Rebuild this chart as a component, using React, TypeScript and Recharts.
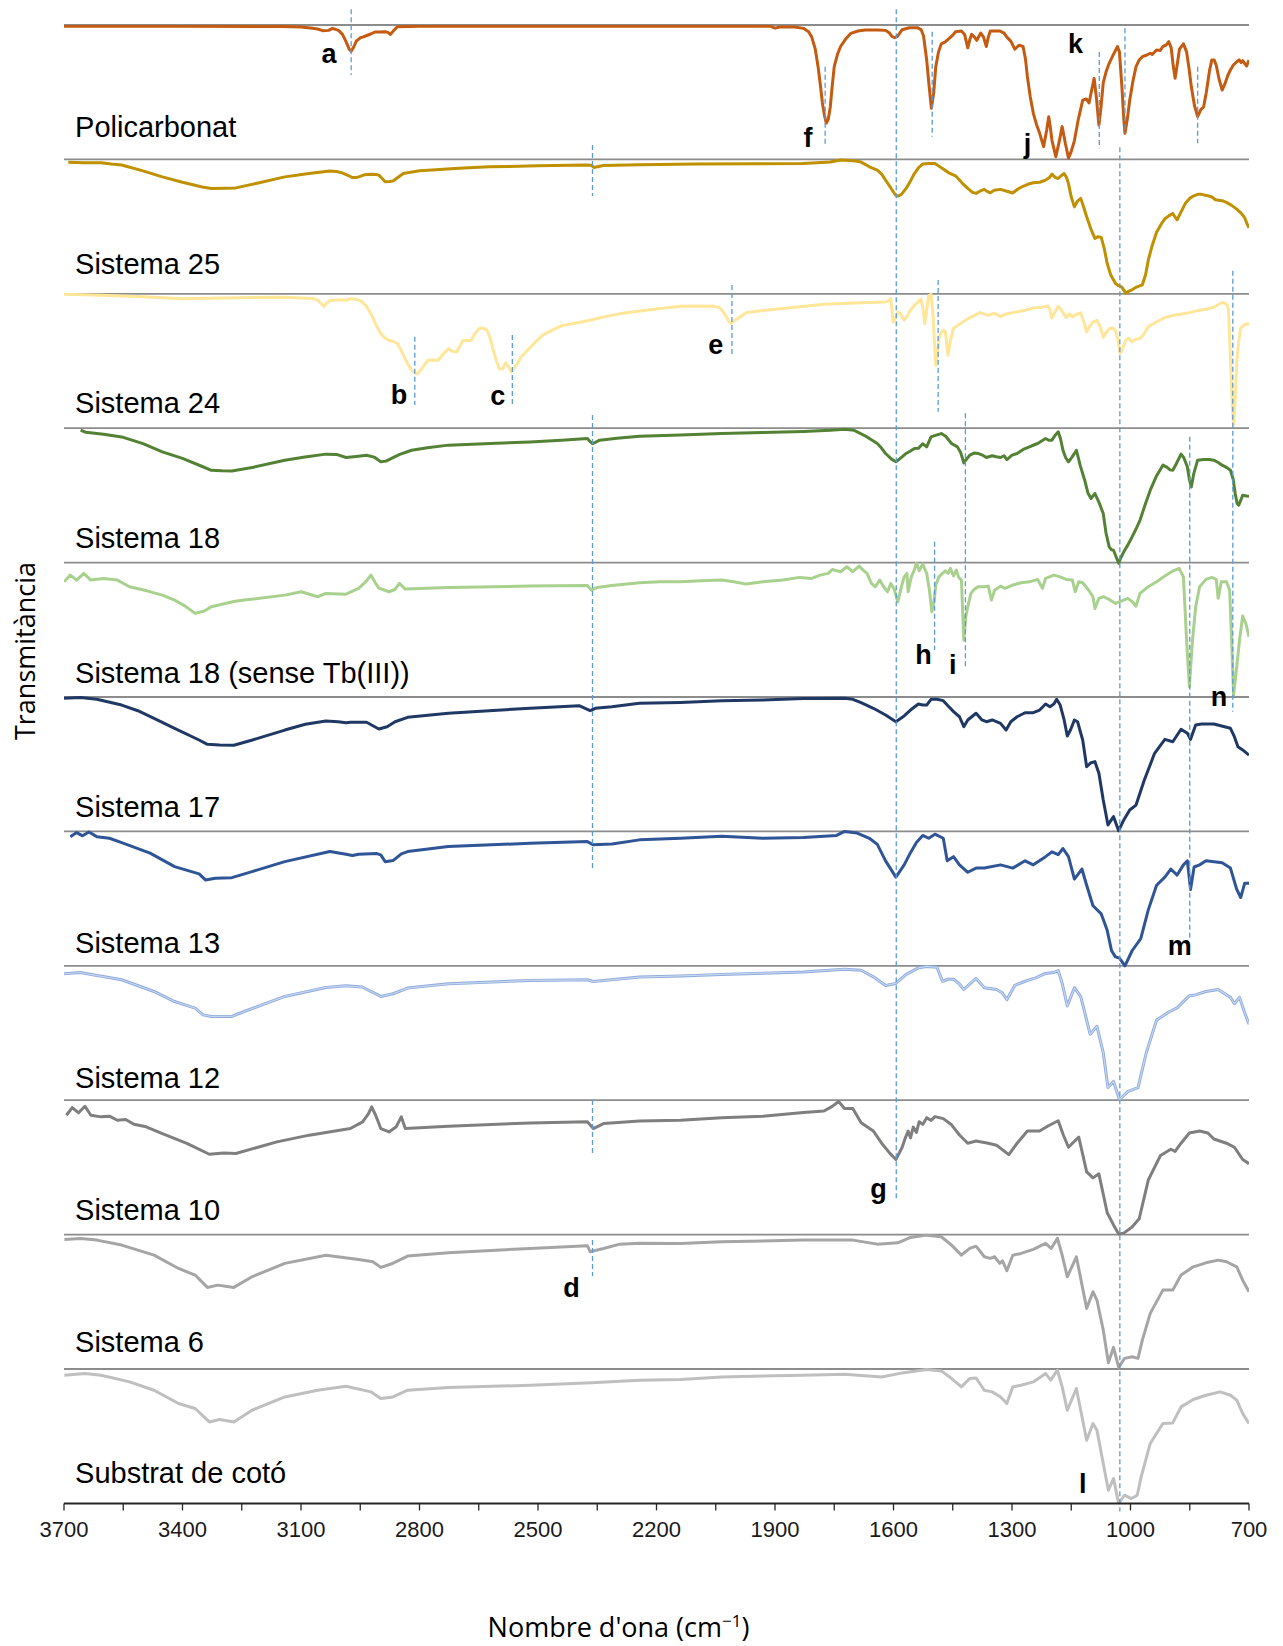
import React from 'react';
import { LineChart, Line, XAxis, YAxis, ReferenceLine, ReferenceDot, Label } from 'recharts';

type Pt = [number, number];

// Spectra: [wavenumber (cm-1), relative transmittance within its band (0 = bottom, 100 = top)]
const POLICARBONAT: Pt[] = [
  [3700, 99], [3400, 99], [3150, 98.8], [3100, 98.5], [3070, 97.5], [3058, 97], [3045, 95.8], [3030, 96], [3020, 97.5],
  [3005, 96], [2995, 93], [2986, 87.6], [2978, 82], [2973, 80.5], [2966, 84], [2960, 88], [2950, 90.5], [2944, 91],
  [2935, 92], [2922, 93.5], [2913, 94.8], [2900, 94.8], [2887, 95], [2880, 94.5], [2874, 93], [2865, 96], [2856, 98.7],
  [2800, 99], [2500, 99], [2200, 99], [1911, 99], [1900, 97.7], [1888, 98.5], [1850, 98.5], [1828, 97.5], [1815, 95],
  [1807, 91], [1798, 82], [1791, 69], [1785, 55], [1780, 42], [1775, 33], [1770, 27], [1765, 30], [1760, 39], [1755, 55],
  [1750, 69], [1742, 78], [1734, 84], [1720, 90], [1708, 93.8], [1690, 95.5], [1672, 96.3], [1640, 96.3], [1620, 96],
  [1610, 94], [1604, 91.5], [1597, 90.5], [1590, 91.5], [1578, 96.5], [1560, 98], [1540, 98], [1530, 96.5], [1524, 92],
  [1516, 74], [1510, 55], [1504, 38], [1498, 50], [1493, 69], [1486, 80], [1479, 86], [1469, 87.5], [1459, 90],
  [1450, 92.5], [1443, 95], [1428, 95.5], [1420, 93], [1412, 83], [1406, 90], [1402, 93], [1395, 91], [1389, 88.6],
  [1383, 92], [1379, 94], [1372, 91], [1365, 84], [1360, 91], [1355, 95.5], [1330, 95.5], [1320, 94], [1313, 91],
  [1303, 88], [1298, 85], [1293, 82], [1282, 85], [1272, 84], [1266, 75], [1261, 61.5], [1254, 47], [1246, 34.3],
  [1238, 26], [1230, 19.4], [1220, 9.5], [1212, 22], [1207, 31.8], [1203, 24], [1199, 14.4], [1189, 2], [1180, 14],
  [1173, 24.4], [1165, 12], [1157, 1], [1150, 6], [1142, 14], [1132, 30], [1121, 44], [1112, 45], [1105, 42], [1098, 52],
  [1092, 60.3], [1086, 45], [1080, 25.6], [1075, 38], [1069, 57], [1062, 65], [1054, 71.5], [1045, 77], [1033, 84],
  [1028, 80], [1022, 55], [1017, 30], [1014, 19.4], [1008, 30], [1002, 44], [994, 58], [986, 69], [978, 74], [970, 76.4],
  [960, 77.5], [950, 79], [945, 78], [934, 81.4], [925, 81], [918, 84], [910, 85], [903, 87.6], [897, 83], [892, 70],
  [887, 60.3], [882, 70], [876, 82], [866, 86], [858, 80], [852, 68], [846, 54], [838, 40], [830, 31.8], [822, 37],
  [815, 39], [808, 50], [800, 66], [794, 74], [788, 74], [783, 70], [776, 60], [768, 51.6], [760, 57], [753, 63],
  [747, 66.5], [740, 70], [731, 72.7], [725, 74], [720, 72], [716, 73.5], [710, 71], [706, 69.5], [700, 74],
];

const SISTEMA_25: Pt[] = [
  [3689, 97.8], [3650, 97.5], [3606, 97.5], [3580, 96.5], [3554, 95.8], [3500, 91.5], [3451, 87], [3400, 83],
  [3350, 79.5], [3327, 78.4], [3290, 78.6], [3265, 78.8], [3200, 83], [3141, 87], [3080, 89.5], [3027, 91.3],
  [3010, 91], [2996, 90], [2980, 88], [2970, 86.5], [2960, 86.5], [2954, 87], [2940, 88.5], [2923, 89], [2910, 88.7],
  [2903, 88.3], [2895, 86], [2887, 83.4], [2875, 83.5], [2867, 84], [2855, 86.5], [2841, 89.5], [2800, 91.5],
  [2779, 92], [2700, 93.5], [2624, 94.5], [2500, 95.2], [2380, 95.8], [2365, 95.6], [2358, 94], [2350, 94.5],
  [2334, 95.5], [2243, 96], [2100, 96.5], [1950, 96.8], [1830, 97], [1760, 98], [1734, 99.6], [1700, 99], [1682, 98],
  [1661, 94.5], [1641, 92], [1630, 89], [1620, 84.6], [1605, 78], [1595, 73.5], [1589, 72.7], [1580, 74], [1568, 78.4],
  [1557, 84], [1547, 89.5], [1536, 94], [1526, 96.5], [1510, 97], [1495, 97], [1485, 95], [1474, 92.8], [1460, 90],
  [1443, 87.8], [1425, 82], [1412, 78.4], [1400, 75.5], [1391, 74.7], [1380, 76.5], [1370, 77.7], [1362, 76],
  [1355, 75.2], [1345, 77], [1329, 77.7], [1315, 76.5], [1298, 75], [1285, 78], [1272, 80], [1260, 81.5], [1246, 82.6],
  [1230, 83], [1215, 84.6], [1205, 86.5], [1199, 89], [1190, 86.5], [1183, 85.8], [1175, 88], [1168, 89.5],
  [1162, 86.5], [1157, 82], [1150, 72], [1142, 64.7], [1134, 69], [1126, 71], [1118, 64], [1111, 57.3], [1100, 48],
  [1090, 41.2], [1082, 42.5], [1074, 42], [1066, 33], [1059, 22.6], [1050, 14], [1038, 7.7], [1030, 6], [1022, 5],
  [1012, 0.5], [1004, 2], [996, 3], [985, 5], [970, 6.7], [962, 14], [955, 25], [945, 36], [934, 45.8], [922, 52],
  [913, 55.8], [903, 58], [893, 59.8], [887, 57], [882, 55], [872, 61], [861, 67.3], [850, 71], [841, 72.7], [830, 74],
  [820, 74], [805, 73], [794, 72], [785, 70], [773, 69.5], [765, 69], [757, 68], [745, 66], [731, 63], [720, 60],
  [711, 56.7], [705, 52], [700, 49],
];

const SISTEMA_24: Pt[] = [
  [3700, 99.6], [3600, 99], [3500, 97.8], [3400, 96.4], [3300, 96.8], [3141, 97.5], [3070, 96.5], [3058, 95.5],
  [3050, 93], [3042, 90.7], [3035, 93], [3027, 95], [3010, 95.3], [2996, 95.6], [2985, 95.2], [2975, 96.4], [2960, 95.8],
  [2949, 94.8], [2935, 91], [2923, 85.2], [2910, 77], [2898, 70.4], [2887, 67], [2877, 65.4], [2866, 64.5], [2856, 63],
  [2845, 57], [2830, 48], [2822, 44], [2815, 41.8], [2805, 40.4], [2795, 44], [2779, 50.5], [2765, 50.8], [2753, 50.5],
  [2740, 55], [2727, 59.2], [2716, 57], [2706, 56.7], [2698, 61], [2691, 65], [2680, 65.5], [2670, 65], [2660, 70],
  [2649, 74.1], [2640, 74.5], [2629, 73], [2620, 66], [2613, 57.7], [2605, 50], [2598, 44.3], [2590, 44], [2582, 48.6],
  [2575, 46], [2567, 41.7], [2555, 47], [2541, 53.5], [2520, 60], [2489, 69.1], [2460, 73.5], [2437, 76.5],
  [2400, 78.5], [2365, 80.5], [2330, 83], [2293, 85.2], [2243, 87.2], [2190, 89], [2139, 90.7], [2100, 91],
  [2056, 90.7], [2040, 89.7], [2032, 87], [2025, 84], [2018, 80], [2012, 77.8], [2004, 80], [1994, 81.6], [1985, 83.5],
  [1973, 86], [1930, 87.5], [1880, 89], [1830, 90.5], [1776, 92.2], [1700, 93.2], [1620, 93.9], [1612, 95],
  [1607, 96.4], [1604, 88], [1601, 79], [1595, 82], [1589, 86.5], [1582, 85], [1573, 80.4], [1566, 83], [1557, 87.9],
  [1545, 92], [1531, 96], [1526, 90], [1521, 77.8], [1516, 88], [1511, 98.5], [1505, 99.5], [1500, 85], [1496, 62],
  [1493, 46.8], [1488, 58], [1484, 68], [1479, 71], [1474, 73], [1469, 72.2], [1465, 62], [1462, 54.2], [1456, 65],
  [1448, 74.4], [1430, 78], [1412, 81.5], [1395, 84], [1381, 86], [1360, 84], [1345, 85.5], [1329, 83], [1315, 85],
  [1298, 86], [1270, 87.5], [1246, 89.5], [1225, 90], [1209, 91], [1204, 88], [1199, 82], [1192, 86], [1183, 90.7],
  [1175, 88], [1163, 82.3], [1155, 85], [1147, 82.8], [1138, 84.5], [1126, 85.8], [1118, 79], [1111, 71.6], [1103, 76],
  [1095, 79], [1085, 80.3], [1076, 75], [1069, 67.5], [1062, 71], [1054, 74], [1046, 74.5], [1038, 72.8], [1032, 66],
  [1026, 55.5], [1019, 60], [1012, 65.4], [1004, 67], [996, 64.2], [988, 66], [976, 66.7], [966, 70], [955, 75.6],
  [935, 79], [913, 82.3], [890, 84], [870, 85], [851, 86], [830, 87.5], [809, 88.5], [790, 90], [768, 93.5], [760, 93],
  [755, 91.5], [752, 88], [748, 60], [745, 35.6], [742, 15], [739, 2.2], [735, 20], [731, 49.5], [726, 65], [721, 74.4],
  [712, 77], [700, 78],
];

const SISTEMA_18: Pt[] = [
  [3658, 98.5], [3645, 97], [3600, 95.5], [3554, 93.5], [3500, 88.5], [3451, 82.4], [3400, 77.5], [3350, 71.5],
  [3327, 68.7], [3300, 68.3], [3275, 68.2], [3220, 71], [3141, 76.2], [3090, 78.5], [3037, 80.7], [3010, 80.5],
  [2986, 78.2], [2960, 79], [2934, 79.9], [2915, 78.5], [2898, 75], [2885, 75.5], [2872, 77.4], [2850, 80.5],
  [2820, 83.6], [2780, 85.5], [2727, 87.4], [2620, 88.7], [2520, 89.8], [2440, 91], [2375, 92.3], [2368, 90],
  [2362, 88.6], [2355, 89.5], [2344, 91.1], [2300, 92.5], [2243, 94], [2140, 95], [2035, 96], [1930, 96.8],
  [1828, 97.6], [1760, 98.5], [1724, 99.3], [1700, 98.5], [1692, 97.3], [1670, 94], [1641, 88.6], [1630, 85],
  [1620, 81.2], [1605, 77], [1594, 75], [1585, 77], [1568, 81.2], [1557, 83], [1547, 84.9], [1537, 85], [1526, 88.4],
  [1516, 86.1], [1505, 93.5], [1490, 95], [1479, 96], [1468, 94], [1453, 88.6], [1438, 86.1], [1430, 82], [1422, 74.2],
  [1415, 77], [1407, 79.9], [1396, 81.5], [1386, 81.2], [1375, 80], [1365, 78.2], [1350, 79.5], [1340, 78.8],
  [1329, 78.2], [1320, 79.5], [1313, 76.7], [1300, 80], [1287, 81.2], [1270, 84.5], [1256, 86.1], [1245, 87.5],
  [1235, 88.6], [1225, 90.5], [1215, 92.3], [1207, 91], [1199, 91.1], [1190, 95], [1183, 97.3], [1177, 92],
  [1171, 83.6], [1164, 78], [1157, 75], [1148, 78.5], [1137, 83.6], [1127, 72], [1116, 61.3], [1108, 52], [1100, 47.7],
  [1094, 50], [1090, 51.4], [1080, 45], [1069, 36.5], [1062, 22], [1054, 11.7], [1048, 9.5], [1043, 9.2], [1036, 4],
  [1030, -0.5], [1024, 4], [1017, 8], [1007, 13], [996, 19.1], [986, 25], [976, 31.5], [963, 43], [950, 53.9],
  [935, 64], [918, 72.5], [908, 71], [900, 69], [893, 68.7], [885, 73], [872, 80.7], [865, 78], [856, 71.2], [851, 62],
  [846, 56.3], [840, 66], [830, 76.2], [815, 76.7], [800, 76.7], [789, 76.2], [778, 74.5], [768, 72.5], [755, 70.5],
  [747, 68.7], [740, 62], [735, 51.4], [730, 44], [726, 42.7], [720, 47], [716, 50.1], [706, 49.5], [700, 49.4],
];

const SISTEMA_18_SENSE_TB: Pt[] = [
  [3700, 85.7], [3684, 90.7], [3668, 87], [3650, 92], [3632, 87], [3600, 88.2], [3565, 87], [3534, 82], [3490, 79],
  [3451, 75.8], [3420, 72.1], [3395, 68], [3368, 62.2], [3345, 64], [3327, 67.1], [3270, 71], [3244, 72.1],
  [3141, 75.8], [3099, 78.3], [3058, 74.6], [3037, 77.1], [2986, 76.5], [2954, 80.8], [2935, 86], [2923, 90.7],
  [2912, 85], [2903, 81], [2877, 78.3], [2862, 80], [2851, 84.5], [2836, 80.3], [2727, 81.5], [2520, 82.5],
  [2375, 83], [2365, 79.5], [2350, 81.5], [2313, 83], [2243, 85], [2191, 85.7], [2139, 85.7], [2087, 86.5],
  [2035, 87], [2004, 85.7], [1973, 84], [1931, 85.7], [1880, 87], [1838, 89], [1807, 88.2], [1786, 90.7], [1765, 92],
  [1755, 94.9], [1734, 93.2], [1718, 96.9], [1703, 93.2], [1687, 97.4], [1677, 94.4], [1667, 92], [1656, 84.5],
  [1646, 82], [1635, 87], [1625, 82], [1615, 78.3], [1607, 84.5], [1599, 80.8], [1589, 70.8], [1580, 82], [1573, 89.4],
  [1566, 92], [1563, 78.3], [1555, 89.4], [1549, 93.2], [1542, 99.5], [1535, 93.9], [1526, 98.9], [1516, 92],
  [1509, 79.5], [1503, 63.4], [1497, 72.1], [1493, 83.3], [1485, 89.4], [1476, 92], [1469, 93.9], [1462, 92],
  [1456, 95.7], [1448, 90], [1441, 94.4], [1435, 89], [1428, 87], [1422, 42.3], [1417, 59.7], [1412, 67.1],
  [1404, 77.1], [1396, 80], [1386, 82], [1370, 82], [1360, 82.5], [1352, 72.1], [1344, 79.5], [1329, 82.5],
  [1318, 80.8], [1298, 83.3], [1277, 85], [1256, 85.7], [1235, 87.5], [1223, 80.8], [1215, 88.2], [1194, 90.7],
  [1178, 89.4], [1163, 87.5], [1147, 87], [1140, 78.3], [1131, 85.7], [1121, 85], [1106, 79.5], [1095, 74.6],
  [1090, 65.9], [1080, 73.4], [1069, 74.6], [1054, 72.6], [1038, 69.6], [1022, 71.6], [1007, 73.4], [996, 71],
  [986, 67.6], [976, 77.1], [955, 82], [934, 85.7], [913, 90], [892, 93.9], [877, 95.7], [866, 89.4], [858, 42.3],
  [851, 7.6], [843, 42.3], [835, 67.1], [825, 82], [809, 87.5], [794, 89], [783, 87.5], [778, 73.4], [770, 85.7],
  [757, 85.7], [749, 79.5], [745, 49.8], [739, 1.4], [731, 22.5], [724, 42.3], [716, 60.2], [708, 54.7], [700, 44.8],
];

const SISTEMA_17: Pt[] = [
  [3700, 99], [3658, 99.7], [3617, 98.3], [3554, 94], [3513, 89.8], [3472, 84.1], [3420, 76.7], [3358, 68],
  [3337, 64.8], [3306, 64.3], [3270, 64.1], [3223, 68], [3141, 75.4], [3089, 79.7], [3037, 82.1], [3006, 81.6],
  [2986, 80.9], [2975, 81.2], [2934, 81.2], [2903, 76.2], [2882, 77.9], [2862, 81.6], [2830, 84.9], [2727, 87.9],
  [2624, 89.8], [2520, 91.6], [2396, 93.5], [2368, 89.8], [2355, 91.6], [2313, 92.8], [2243, 95.3], [2139, 96],
  [2035, 97.3], [1931, 97.8], [1828, 98.8], [1724, 99], [1703, 98.3], [1682, 95.8], [1651, 91.6], [1620, 86.6],
  [1594, 81.6], [1573, 85.9], [1557, 90.3], [1537, 94.8], [1526, 94], [1516, 94], [1505, 98.3], [1490, 98.3],
  [1474, 97.3], [1464, 94], [1448, 89.1], [1433, 85.3], [1422, 77.9], [1412, 82.9], [1391, 87.9], [1376, 82.9],
  [1365, 81.6], [1350, 82.9], [1329, 80.4], [1315, 75.4], [1303, 81.6], [1287, 85.3], [1267, 88.3], [1246, 88.3],
  [1230, 90.3], [1215, 94.8], [1204, 92.8], [1194, 94.8], [1187, 98.3], [1178, 94], [1168, 82.9], [1160, 71],
  [1152, 75.4], [1142, 82.9], [1134, 81.6], [1121, 68], [1111, 48.1], [1100, 51.1], [1090, 51.9], [1080, 43.2],
  [1069, 23.4], [1057, 4.8], [1043, 11], [1030, 0.5], [1017, 8.5], [1002, 15.9], [986, 19.6], [965, 38.2], [939, 58.1],
  [913, 68.5], [893, 66.7], [872, 76], [856, 73], [848, 68.5], [835, 79.2], [820, 79.9], [789, 79.9], [747, 76.7],
  [737, 70.5], [728, 63], [716, 60.6], [700, 56.8],
];

const SISTEMA_13: Pt[] = [
  [3684, 96.1], [3668, 99.1], [3653, 96.7], [3637, 99.5], [3617, 96.1], [3585, 94.9], [3554, 91.7], [3482, 83.8],
  [3420, 73.8], [3358, 68.4], [3342, 63.9], [3317, 65.2], [3275, 65.6], [3224, 70.1], [3141, 77.5], [3027, 85],
  [2986, 83], [2970, 82], [2954, 83], [2908, 83.5], [2898, 82.5], [2887, 77.5], [2867, 78.3], [2846, 83.3], [2830, 85],
  [2727, 88.7], [2520, 91.2], [2375, 92.4], [2360, 90], [2313, 90.7], [2243, 93.7], [2139, 94.9], [2035, 96.4],
  [1931, 94.9], [1828, 95.5], [1744, 97], [1724, 100], [1692, 98.8], [1661, 94.9], [1641, 90.3], [1620, 78.1],
  [1594, 66], [1573, 75.1], [1557, 84.2], [1542, 91.8], [1526, 97], [1511, 94.9], [1495, 97.9], [1474, 94.9],
  [1464, 78.1], [1448, 81.2], [1433, 75.1], [1412, 69.6], [1391, 72.7], [1370, 72.7], [1329, 75.1], [1298, 72.7],
  [1267, 78.1], [1246, 75.1], [1215, 81.2], [1199, 84.8], [1183, 82.7], [1171, 87.3], [1157, 81.2], [1142, 64.5],
  [1123, 72], [1111, 59.9], [1095, 44.7], [1074, 38.6], [1059, 26.4], [1048, 11.2], [1038, 6.6], [1028, 5.7],
  [1014, 0], [996, 11.2], [974, 20.3], [955, 41.6], [934, 59.9], [913, 66], [898, 72], [882, 67.5], [866, 75.1],
  [856, 78.1], [848, 56.8], [839, 73.5], [825, 75.1], [809, 78.1], [768, 76.6], [747, 72.7], [731, 56.8], [721, 50.8],
  [711, 61.4], [700, 61.4],
];

const SISTEMA_12: Pt[] = [
  [3700, 94], [3658, 95], [3627, 93.3], [3554, 89.6], [3472, 80.9], [3420, 73.4], [3368, 68.5], [3348, 63.5],
  [3327, 62.3], [3275, 62.3], [3244, 66], [3141, 77.2], [3037, 83.9], [2986, 85.1], [2945, 84.2], [2898, 77.2],
  [2867, 79.2], [2830, 83.4], [2727, 86.6], [2520, 89.1], [2375, 89.6], [2360, 88.3], [2243, 91.6], [2139, 92.5],
  [2035, 93.6], [1930, 94.5], [1828, 95.4], [1724, 97.5], [1682, 96.7], [1651, 91.8], [1620, 85.4], [1594, 86.9],
  [1568, 93.6], [1537, 98.5], [1516, 99.5], [1490, 98.9], [1476, 88.5], [1462, 90], [1448, 90], [1435, 87],
  [1422, 82.4], [1405, 87], [1391, 90.6], [1370, 83.7], [1339, 82.4], [1325, 80], [1313, 74.8], [1293, 85.4],
  [1267, 88.5], [1240, 91], [1215, 94.3], [1195, 95], [1183, 96.4], [1173, 87], [1160, 70.2], [1142, 83.7],
  [1126, 77], [1102, 49], [1085, 55], [1069, 35.3], [1057, 9.4], [1043, 14], [1028, 0.3], [1007, 6.4], [981, 9.4],
  [960, 35.3], [934, 59.6], [903, 65.6], [882, 68.7], [861, 74.8], [851, 77.8], [840, 78], [809, 80.9], [778, 82.4],
  [747, 76.5], [737, 71.8], [724, 76.5], [712, 66], [700, 56.5],
];

const SISTEMA_10: Pt[] = [
  [3694, 88.8], [3679, 94.5], [3663, 90.6], [3647, 95.5], [3632, 88.8], [3606, 87.6], [3585, 88.1], [3565, 85.1],
  [3544, 85.6], [3523, 82.1], [3492, 80.2], [3451, 75.2], [3389, 67.8], [3332, 59.8], [3296, 60.8], [3265, 60.3],
  [3161, 69], [3079, 74], [2975, 78.9], [2944, 83.9], [2929, 90.1], [2921, 95], [2911, 88.8], [2898, 78.9],
  [2877, 76.4], [2859, 80.2], [2846, 87.6], [2836, 78.9], [2727, 80.7], [2520, 83.1], [2375, 83.9], [2360, 78.9],
  [2334, 82.6], [2243, 84.6], [2139, 85], [2035, 86.9], [1931, 88], [1828, 90.8], [1776, 92], [1755, 95.4],
  [1739, 99], [1724, 93.9], [1703, 93.9], [1682, 83.3], [1651, 77.1], [1630, 68], [1609, 60.4], [1594, 55.9],
  [1578, 65], [1570, 72], [1563, 77], [1557, 72], [1550, 80], [1542, 76], [1535, 84], [1526, 82], [1516, 87],
  [1505, 85], [1495, 87.8], [1474, 86.3], [1453, 81.7], [1433, 74.1], [1412, 68], [1391, 69.6], [1360, 68],
  [1339, 66.5], [1308, 59.5], [1287, 68], [1261, 77.1], [1230, 77.1], [1209, 80.8], [1183, 84.7], [1170, 74.1],
  [1157, 65], [1131, 72.6], [1111, 46.7], [1095, 42.2], [1080, 45.2], [1059, 16.3], [1043, 7.2], [1030, 0.5],
  [1017, 1.1], [996, 5.7], [978, 11.8], [955, 40.6], [924, 58.9], [898, 63.5], [887, 61.9], [872, 68], [851, 75.6],
  [825, 77.1], [804, 75.6], [789, 71.1], [757, 68], [737, 65], [716, 55.9], [700, 52.8],
];

const SISTEMA_6: Pt[] = [
  [3699, 96.4], [3658, 97.1], [3617, 95.9], [3554, 92.2], [3472, 84.7], [3410, 74.8], [3368, 69.9], [3337, 60.7],
  [3311, 62.4], [3270, 60.7], [3224, 68.6], [3141, 78.6], [3037, 84.7], [2954, 81.5], [2918, 79.8], [2898, 75.6],
  [2872, 78.1], [2830, 84], [2727, 86.5], [2520, 89.7], [2375, 91.7], [2368, 87.3], [2334, 89.7], [2293, 92.9],
  [2243, 93.5], [2139, 93.4], [2035, 94.7], [1828, 95.9], [1703, 95.9], [1641, 92.9], [1589, 93.9], [1557, 97.9],
  [1516, 99.6], [1479, 98.4], [1453, 92.2], [1428, 84.7], [1407, 89.7], [1391, 91.4], [1370, 83.5], [1355, 82.3],
  [1344, 83.5], [1331, 78.6], [1324, 80.5], [1313, 73.1], [1298, 84.7], [1277, 86], [1246, 89], [1215, 93.4],
  [1201, 89.7], [1185, 97.2], [1173, 84.7], [1160, 68.6], [1137, 83.5], [1111, 45.1], [1095, 57.5], [1085, 51.3],
  [1069, 29], [1056, 4.6], [1043, 16.1], [1030, 1.2], [1015, 7.9], [996, 9.1], [981, 7.9], [970, 21.5], [950, 41.4],
  [918, 58.7], [893, 58.7], [872, 69.9], [841, 76], [809, 79], [778, 81], [757, 79.8], [731, 76], [716, 66.1],
  [700, 57.5],
];

const SUBSTRAT_COTO: Pt[] = [
  [3699, 95.4], [3647, 96.7], [3606, 95.4], [3534, 90.4], [3472, 84.2], [3410, 74.3], [3368, 70.6], [3332, 60.6],
  [3306, 62.4], [3270, 60.6], [3224, 69.3], [3141, 79.2], [3058, 84.2], [2986, 87.2], [2923, 83], [2898, 78],
  [2867, 79.2], [2830, 84.2], [2727, 86.2], [2520, 87.9], [2365, 89.7], [2243, 91.7], [2139, 92.2], [2035, 94.1],
  [1828, 95.4], [1724, 96.1], [1630, 94.1], [1578, 97.1], [1516, 99.6], [1479, 98.6], [1453, 92.9], [1428, 86.7],
  [1407, 92.9], [1391, 93.3], [1370, 84.2], [1350, 83], [1329, 79.2], [1313, 74.3], [1298, 86.7], [1277, 87.9],
  [1246, 90.4], [1215, 96.7], [1202, 91.7], [1185, 99.1], [1173, 86.7], [1160, 69.3], [1137, 85.5], [1111, 47],
  [1095, 59.4], [1085, 54.5], [1069, 29.7], [1056, 9.8], [1043, 18.5], [1030, 0], [1015, 6.1], [998, 3.6], [983, 6.1],
  [973, 19.7], [950, 44.6], [918, 59.4], [893, 59.9], [872, 71.8], [841, 77.3], [809, 80.5], [773, 83], [747, 80.5],
  [731, 76.8], [716, 66.9], [700, 59.4],
];

// Series order top to bottom
const SERIES_NAMES = [
  'Policarbonat', 'Sistema 25', 'Sistema 24', 'Sistema 18', 'Sistema 18 (sense Tb(III))', 'Sistema 17',
  'Sistema 13', 'Sistema 12', 'Sistema 10', 'Sistema 6', 'Substrat de cotó',
];
const SERIES_POINTS = [
  POLICARBONAT, SISTEMA_25, SISTEMA_24, SISTEMA_18, SISTEMA_18_SENSE_TB, SISTEMA_17,
  SISTEMA_13, SISTEMA_12, SISTEMA_10, SISTEMA_6, SUBSTRAT_COTO,
];
const SERIES_COLORS = [
  '#C55A11', '#BF9000', '#FFE699', '#548235', '#A9D18E', '#203864',
  '#2F5597', '#8FAADC', '#7F7F7F', '#A5A5A5', '#BFBFBF',
];
const SERIES_INNER: (string | null)[] = [null, null, null, null, null, null, null, '#C5D6F0', null, null, null];

// Axis
const TICK_LABELS = [3700, 3400, 3100, 2800, 2500, 2200, 1900, 1600, 1300, 1000, 700];
const MINOR_TICKS = [3550, 3250, 2950, 2650, 2350, 2050, 1750, 1450, 1150, 850];
const ALL_TICKS = [...TICK_LABELS, ...MINOR_TICKS].sort((a, b) => b - a);

// Band-assignment letters
const PEAK_LETTERS = ['a', 'b', 'c', 'd', 'e', 'f', 'g', 'h', 'i', 'j', 'k', 'l', 'm', 'n'];

// Dashed marker lines: wavenumber and vertical extent (chart units)
const MARKER_WN = [2973, 1773, 1593, 1502, 1079, 1014, 1027, 830, 2362, 2362, 2362, 2362, 2812, 2565, 2009, 1487, 1418, 1496, 850, 741];
const MARKER_FROM = [1111.7, 1069, 1111.7, 1095, 1080, 1097.5, 1009, 1069, 1010.7, 809.8, 300.1, 196, 868.1, 869.3, 906.5, 910.3, 811.1, 715.6, 793.7, 917.2];
const MARKER_TO = [1062.8, 1010.7, 225.7, 1016.9, 1008.3, 1019.6, -6, 1012, 972.8, 470.5, 259.2, 169.2, 817.3, 817.3, 854.5, 812.3, 621.4, 635, 420.2, 589];

// Layout of text annotations (chart units)
const LETTER_POS: [number, number][] = [
  [3029, 1072], [2852, 818], [2602, 817.3], [2415.5, 153.4], [2050, 855.2], [1816.5, 1009.5], [1638, 227.2],
  [1524, 624.6], [1450, 617.1], [1261, 1004.8], [1139, 1078.9], [1121, 7.5], [875, 408], [776, 593.5],
];
const NAME_WN = 3672;
const NAME_Y = [1016.9, 914.7, 811.5, 710.6, 610.2, 510.9, 409.3, 308.9, 210.9, 112.9, 14.9];

const BAND = 100;
const N = SERIES_NAMES.length;
const BAND_LINES = Array.from({ length: N }, (_, i) => (N - i) * BAND);

const SANS = 'Liberation Sans, Arial, sans-serif';
const TITLE_FONT = 'Open Sans, Liberation Sans, sans-serif';

const seriesData = SERIES_POINTS.map((pts, i) =>
  pts.map(([wn, t]) => ({ wn, y: t + (N - 1 - i) * BAND }))
);

function AxisTick(props: any) {
  const { x, y, payload } = props;
  if (!TICK_LABELS.includes(payload.value)) return <g />;
  return (
    <text x={x} y={y + 24.3} textAnchor="middle" fontFamily={SANS} fontSize={22} fill="#1a1a1a">
      {payload.value}
    </text>
  );
}

// Axis titles: the horizontal one under the tick labels, the vertical one at the far left
function AxisTitles(props: any) {
  const vb = props.viewBox || { x: 0, y: 0, width: 0 };
  return (
    <g>
      <text x={vb.x + vb.width / 2 - 38} y={vb.y + 133.3} textAnchor="middle" fontFamily={TITLE_FONT} fontSize={27} fill="#000">
        Nombre d'ona (cm
        <tspan fontSize={17} dy={-10}>−1</tspan>
        <tspan dy={10}>)</tspan>
      </text>
      <text transform="translate(35,651) rotate(-90)" textAnchor="middle" fontFamily={TITLE_FONT} fontSize={27} fill="#000">
        Transmitància
      </text>
    </g>
  );
}

export default function App() {
  return (
    <div style={{ position: 'absolute', left: 0, top: 0, width: 1283, height: 1646, background: '#fff' }}>
      <LineChart width={1283} height={1646} margin={{ top: 25, right: 34, bottom: 0, left: 64 }}>
        <XAxis
          type="number"
          dataKey="wn"
          domain={[700, 3700]}
          reversed
          allowDataOverflow
          ticks={ALL_TICKS}
          interval={0}
          height={142.6}
          tick={<AxisTick />}
          tickSize={7}
          tickLine={{ stroke: '#262626', strokeWidth: 1.3 }}
          axisLine={{ stroke: '#262626', strokeWidth: 2 }}
        >
          <Label content={AxisTitles} />
        </XAxis>
        <YAxis
          type="number"
          domain={[0, N * BAND]}
          allowDataOverflow
          width={0}
          tick={false}
          tickLine={false}
          axisLine={false}
        />

        {BAND_LINES.map((v) => (
          <ReferenceLine key={`band-${v}`} y={v} stroke="#8C8C8C" strokeWidth={1.8} ifOverflow="visible" />
        ))}

        {seriesData.map((d, i) => (
          <Line
            key={`s-${i}`}
            data={d}
            dataKey="y"
            name={SERIES_NAMES[i]}
            type="linear"
            stroke={SERIES_COLORS[i]}
            strokeWidth={3}
            strokeLinejoin="round"
            dot={false}
            activeDot={false}
            isAnimationActive={false}
          />
        ))}
        {seriesData.map((d, i) =>
          SERIES_INNER[i] ? (
            <Line
              key={`si-${i}`}
              data={d}
              dataKey="y"
              type="linear"
              stroke={SERIES_INNER[i] as string}
              strokeWidth={1.2}
              dot={false}
              activeDot={false}
              legendType="none"
              isAnimationActive={false}
            />
          ) : null
        )}

        {MARKER_WN.map((wn, i) => (
          <ReferenceLine
            key={`m-${i}`}
            segment={[{ x: wn, y: MARKER_FROM[i] }, { x: wn, y: MARKER_TO[i] }]}
            stroke="#5B9BD5"
            strokeWidth={1.3}
            strokeDasharray="5 3"
            ifOverflow="visible"
          />
        ))}

        {PEAK_LETTERS.map((ch, i) => (
          <ReferenceDot
            key={`l-${ch}`}
            x={LETTER_POS[i][0]}
            y={LETTER_POS[i][1]}
            ifOverflow="visible"
            shape={(p: any) => (
              <text x={p.cx} y={p.cy} textAnchor="middle" fontFamily={SANS} fontWeight="bold" fontSize={27} fill="#000">
                {ch}
              </text>
            )}
          />
        ))}

        {SERIES_NAMES.map((name, i) => (
          <ReferenceDot
            key={`n-${i}`}
            x={NAME_WN}
            y={NAME_Y[i]}
            ifOverflow="visible"
            shape={(p: any) => (
              <text x={p.cx} y={p.cy} textAnchor="start" fontFamily={SANS} fontSize={29} fill="#000">
                {name}
              </text>
            )}
          />
        ))}
      </LineChart>
    </div>
  );
}
